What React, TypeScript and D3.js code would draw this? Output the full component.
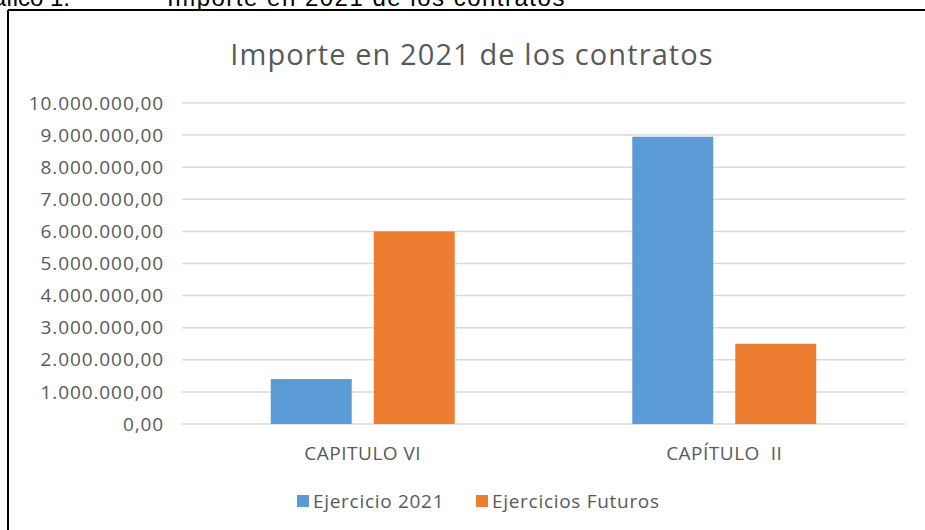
import React from 'react';
import { scaleBand, scaleLinear, range } from 'd3';

// chart data
const categories = ['CAPITULO VI', 'CAPÍTULO  II'];
const seriesNames = ['Ejercicio 2021', 'Ejercicios Futuros'];
const ejercicio2021 = [1400000, 8950000];
const ejerciciosFuturos = [6000000, 2500000];
const yTicks = range(0, 10000001, 1000000);

const colors = ['#5B9BD5', '#ED7D31'];
const textColor = '#595959';
const font = '"Open Sans", sans-serif';

function fmt(v: number) {
    // spanish number format: 1.000.000,00
    const s = Math.round(v).toString().replace(/\B(?=(\d{3})+(?!\d))/g, '.');
    return s + ',00';
}

export default function App() {
    const width = 925;
    const height = 530;
    const left = 182;
    const right = 905;
    const top = 103;
    const bottom = 424;

    const x = scaleBand().domain(categories).range([left, right]);
    const inner = scaleBand()
        .domain(seriesNames)
        .range([0, x.bandwidth()])
        .paddingInner(0.214)
        .paddingOuter(0.862);
    const y = scaleLinear().domain([0, 10000000]).range([bottom, top]);

    const series = [ejercicio2021, ejerciciosFuturos];

    return (
        <svg
            width={width}
            height={height}
            style={{ position: 'absolute', left: 0, top: 0, background: '#fff' }}
        >
            {/* caption above the chart box, cut off by the screenshot */}
            <g fontFamily='"Liberation Sans", Arial, sans-serif' fill="#000" fontSize={24}>
                <text x={-34} y={6}>Gráfico 1.</text>
                <text x={167} y={6} letterSpacing={1.5}>Importe en 2021 de los contratos</text>
            </g>
            <rect x={0} y={10} width={width} height={height} fill="#fff" />
            <line x1={8} x2={width} y1={10} y2={10} stroke="#000" strokeWidth={2} />
            <line x1={8} x2={8} y1={10} y2={height} stroke="#000" strokeWidth={2} />

            <text
                x={472}
                y={65}
                textAnchor="middle"
                fontFamily={font}
                fontSize={29}
                letterSpacing={1.1}
                fill={textColor}
            >
                Importe en 2021 de los contratos
            </text>

            {yTicks.map(t => (
                <g key={t}>
                    <line
                        x1={left}
                        x2={right}
                        y1={y(t)}
                        y2={y(t)}
                        stroke="#d9d9d9"
                        strokeWidth={1.5}
                    />
                    <text
                        x={164}
                        y={y(t)}
                        dy="0.35em"
                        textAnchor="end"
                        fontFamily={font}
                        fontSize={19}
                        letterSpacing={0.9}
                        fill={textColor}
                    >
                        {fmt(t)}
                    </text>
                </g>
            ))}

            {categories.map((c, i) => (
                <g key={c} transform={`translate(${x(c)},0)`}>
                    {series.map((s, j) => (
                        <rect
                            key={j}
                            x={inner(seriesNames[j])}
                            y={y(s[i])}
                            width={inner.bandwidth()}
                            height={y(0) - y(s[i])}
                            fill={colors[j]}
                        />
                    ))}
                    <text
                        x={x.bandwidth() / 2}
                        y={453}
                        dy="0.35em"
                        textAnchor="middle"
                        fontFamily={font}
                        fontSize={19}
                        letterSpacing={0.5}
                        fill={textColor}
                        style={{ whiteSpace: 'pre' }}
                    >
                        {c}
                    </text>
                </g>
            ))}

            {seriesNames.map((n, j) => {
                const lx = [297, 476][j];
                return (
                    <g key={n}>
                        <rect x={lx} y={495} width={12} height={12} fill={colors[j]} />
                        <text
                            x={lx + 16}
                            y={501}
                            dy="0.35em"
                            fontFamily={font}
                            fontSize={19}
                            letterSpacing={0.7}
                            fill={textColor}
                        >
                            {n}
                        </text>
                    </g>
                );
            })}
        </svg>
    );
}
